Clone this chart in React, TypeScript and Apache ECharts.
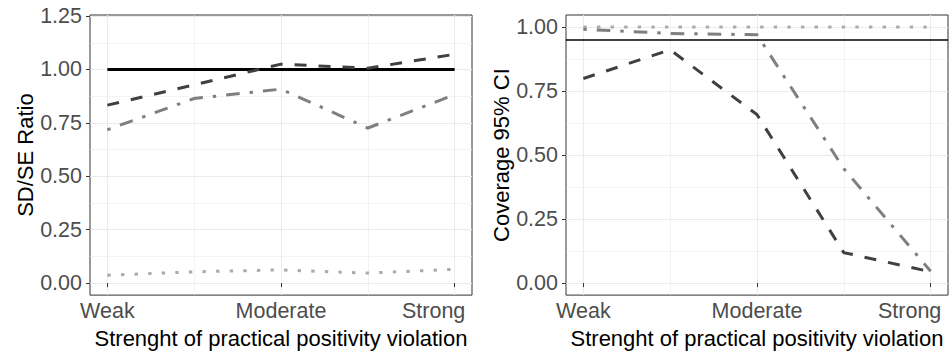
import React, { useEffect, useRef } from "react";
import * as echarts from "echarts";

// ---- data ----
const xPositions = [1, 2, 3, 4, 5];
const xTickValues = [1, 3, 5];
const xTickLabels = ["Weak", "Moderate", "Strong"];
const xMinorValues = [2, 4];

const leftYTicks = [0, 0.25, 0.5, 0.75, 1.0, 1.25];
const leftYMinor = [0.125, 0.375, 0.625, 0.875, 1.125];
const rightYTicks = [0, 0.25, 0.5, 0.75, 1.0];
const rightYMinor = [0.125, 0.375, 0.625, 0.875];

const sdseReference = [1.0, 1.0, 1.0, 1.0, 1.0];
const sdseDashed = [0.833, 0.928, 1.025, 1.006, 1.071];
const sdseDotDash = [0.718, 0.864, 0.908, 0.726, 0.882];
const sdseDotted = [0.037, 0.053, 0.062, 0.047, 0.065];

const covDashed = [0.799, 0.911, 0.658, 0.119, 0.044];
const covDotDash = [0.991, 0.975, 0.97, 0.447, 0.046];
const covDotted = [1.0, 1.0, 1.0, 1.0, 1.0];
const coverageTarget = 0.95;

const leftTitle = "SD/SE Ratio";
const rightTitle = "Coverage 95% CI";
const xTitle = "Strenght of practical positivity violation";

const FONT = "'Liberation Sans', Arial, Helvetica, sans-serif";
const GRID_COLOR = "#ebebeb";
const DARK = "#404040";
const MID = "#7f7f7f";
const LIGHT = "#ababab";
const LW = 3;
const DASHED = [12, 12];
const DOTDASH = [3.4, 10, 13.6, 10];
const DOTTED = [3.4, 10.2];
const LABEL_COLOR = "#4d4d4d";
const LABEL_SIZE = 21.5;

const pairs = (ys: number[]) => xPositions.map((x, i) => [x, ys[i]]);

function xMajorAxis(gridIndex: number) {
  return {
    type: "value",
    gridIndex,
    min: 0.8,
    max: 5.2,
    name: xTitle,
    nameLocation: "middle",
    nameGap: 31,
    nameTextStyle: { color: "#000", fontSize: 22, fontFamily: FONT },
    axisLine: { show: false },
    axisTick: { show: true, length: 4, customValues: xTickValues, lineStyle: { color: "#333333", width: 1 } },
    axisLabel: {
      show: true,
      customValues: xTickValues,
      margin: 5,
      color: LABEL_COLOR,
      fontSize: LABEL_SIZE,
      fontFamily: FONT,
      formatter: (v: number) => {
        const i = xTickValues.indexOf(Math.round(v));
        if (i < 0) return "";
        return i === xTickValues.length - 1 ? "{s|" + xTickLabels[i] + "}" : xTickLabels[i];
      },
      rich: {
        s: { padding: [0, 42, 0, 0], color: LABEL_COLOR, fontSize: LABEL_SIZE, fontFamily: FONT },
      },
    },
    splitLine: { show: true, lineStyle: { color: GRID_COLOR, width: 1.1 } },
  };
}
function xMinorAxis(gridIndex: number) {
  return {
    type: "value",
    gridIndex,
    min: 0.8,
    max: 5.2,
    axisLine: { show: false },
    axisTick: { show: false, customValues: xMinorValues },
    axisLabel: { show: false, customValues: xMinorValues },
    splitLine: { show: true, lineStyle: { color: GRID_COLOR, width: 0.6 } },
  };
}
function yMajorAxis(gridIndex: number, min: number, max: number, ticks: number[], title: string) {
  return {
    type: "value",
    gridIndex,
    min,
    max,
    name: title,
    nameLocation: "middle",
    nameGap: 54,
    nameTextStyle: { color: "#000", fontSize: 22, fontFamily: FONT },
    axisLine: { show: false },
    axisTick: { show: true, length: 4, customValues: ticks, lineStyle: { color: "#333333", width: 1 } },
    axisLabel: {
      show: true,
      customValues: ticks,
      margin: 8,
      color: LABEL_COLOR,
      fontSize: LABEL_SIZE,
      fontFamily: FONT,
      formatter: (v: number) => v.toFixed(2),
    },
    splitLine: { show: true, lineStyle: { color: GRID_COLOR, width: 1.1 } },
  };
}
function yMinorAxis(gridIndex: number, min: number, max: number, ticks: number[]) {
  return {
    type: "value",
    gridIndex,
    min,
    max,
    axisLine: { show: false },
    axisTick: { show: false, customValues: ticks },
    axisLabel: { show: false, customValues: ticks },
    splitLine: { show: true, lineStyle: { color: GRID_COLOR, width: 0.6 } },
  };
}

function lineSeries(xi: number, yi: number, ys: number[], color: string, type: any, width = LW, z = 3) {
  return {
    type: "line",
    xAxisIndex: xi,
    yAxisIndex: yi,
    data: pairs(ys),
    showSymbol: false,
    symbol: "none",
    z,
    lineStyle: { color, width, type, cap: "butt", join: "miter" },
  };
}

export default function App() {
  const ref = useRef<HTMLDivElement>(null);
  useEffect(() => {
    if (!ref.current) return;
    const chart = echarts.init(ref.current, null, { renderer: "svg" });
    chart.setOption({
      animation: false,
      backgroundColor: "#ffffff",
      textStyle: { fontFamily: FONT },
      grid: [
        { left: 90, right: 480, top: 15, bottom: 58, show: true, borderColor: "#333333", borderWidth: 1, backgroundColor: "transparent", containLabel: false },
        { left: 566, right: 4, top: 15, bottom: 58, show: true, borderColor: "#333333", borderWidth: 1, backgroundColor: "transparent", containLabel: false },
      ],
      xAxis: [xMajorAxis(0), xMinorAxis(0), xMajorAxis(1), xMinorAxis(1)],
      yAxis: [
        yMajorAxis(0, -0.056, 1.255, leftYTicks, leftTitle),
        yMinorAxis(0, -0.056, 1.255, leftYMinor),
        yMajorAxis(1, -0.047, 1.047, rightYTicks, rightTitle),
        yMinorAxis(1, -0.047, 1.047, rightYMinor),
      ],
      series: [
        lineSeries(0, 0, sdseReference, "#000000", "solid", 3, 2),
        lineSeries(0, 0, sdseDashed, DARK, DASHED),
        lineSeries(0, 0, sdseDotDash, MID, DOTDASH),
        lineSeries(0, 0, sdseDotted, LIGHT, DOTTED),
        {
          ...lineSeries(2, 2, covDotted, LIGHT, DOTTED),
          markLine: {
            silent: true,
            symbol: "none",
            label: { show: false },
            lineStyle: { color: "#000000", width: 1.5, type: "solid" },
            data: [{ yAxis: coverageTarget }],
          },
        },
        lineSeries(2, 2, covDashed, DARK, DASHED),
        lineSeries(2, 2, covDotDash, MID, DOTDASH),
      ],
    });
    return () => chart.dispose();
  }, []);
  return <div ref={ref} style={{ position: "fixed", left: 0, top: 0, width: 952, height: 354 }} />;
}
